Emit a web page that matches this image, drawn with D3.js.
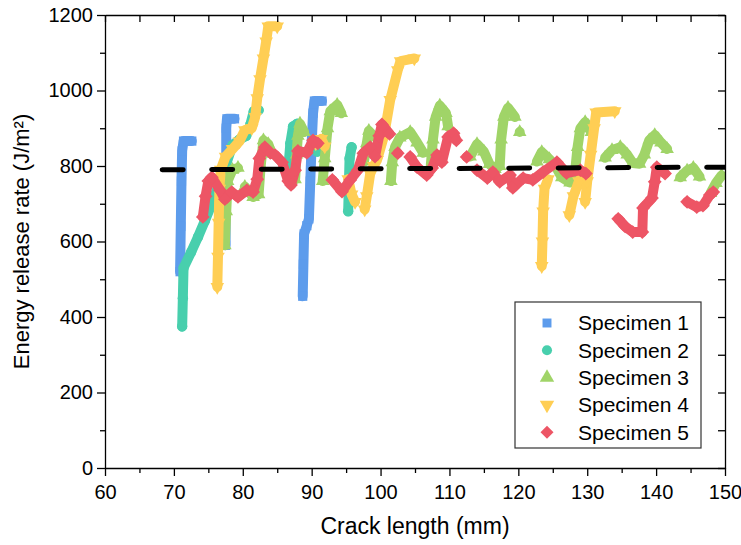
<!DOCTYPE html>
<html><head><meta charset="utf-8">
<script src="https://cdn.jsdelivr.net/npm/d3@7"></script>
<style>
html,body{margin:0;padding:0;background:#fff;}
text{font-family:"Liberation Sans",Arial,sans-serif;fill:#000;}
</style></head>
<body><svg id="c" width="741" height="545"></svg>
<script>
// ---- data ----
const xTicks = [60,70,80,90,100,110,120,130,140,150];
const yTicks = [0,200,400,600,800,1000,1200];
const seriesNames = ["Specimen 1","Specimen 2","Specimen 3","Specimen 4","Specimen 5"];
const seriesColors = ["#5D9CEC","#48CFAD","#A0D468","#FFCE54","#ED5565"];

const spec1 = [[70.9,520],[71.0,640],[71.1,760],[71.2,840],[71.4,866],[72.6,866],null,
 [77.5,590],[77.5,700],[77.6,800],[77.6,900],[77.7,925],[78.8,925],null,
 [88.7,455],[88.8,540],[88.9,620],[89.3,642],[89.6,660],[89.8,760],[90.0,860],[90.2,940],[90.4,972],[91.5,972]];

const spec2 = [[71.2,375],[71.3,450],[71.4,530],[72.5,572],[73.5,612],[74.5,655],[75.5,700],[76.5,750],[77.5,800],[78.5,855],[79.5,870],[80.5,880],[81.1,910],[81.6,945],[82.3,948],null,
 [86.6,790],[86.9,860],[87.3,905],[87.9,912],null,
 [90.8,838],[91.5,852],null,
 [95.3,680],[95.4,750],[95.5,820],[95.8,850]];

const spec3 = [[77.4,590],[77.6,680],[77.8,760],[78.5,790],[79.3,795],null,
 [80.3,745],[81.5,718],[82.3,725],[82.6,800],[83.0,868],[83.7,858],[84.2,832],null,
 [87.6,765],[87.8,830],[88.0,880],[88.3,912],[88.9,890],null,
 [91.6,760],[91.9,820],[92.3,900],[92.7,945],[93.7,962],[94.3,940],null,
 [97.6,812],[98.0,860],[98.3,893],[99.0,878],null,
 [101.5,760],[101.7,810],[102.1,850],[102.8,875],[104.3,890],[105.3,862],[106.2,835],null,
 [107.3,803],[107.6,870],[108.0,930],[108.6,960],[109.5,940],[109.8,905],null,
 [113.0,825],[114.0,858],[115.0,838],[115.8,805],[116.6,792],[117.3,800],[117.5,870],[117.9,930],[118.5,954],[119.5,930],null,
 [120.2,890],null,
 [122.7,812],[123.4,837],[124.5,818],[125.4,800],[126.3,770],[127.5,756],[128.2,778],[128.6,850],[129.0,900],[129.7,916],[130.6,890],null,
 [132.6,822],[133.6,842],[134.8,850],[135.8,830],[136.6,808],[137.6,806],[138.3,830],[139.0,868],[139.8,882],[140.7,862],[141.6,845],null,
 [143.5,770],[144.5,788],[145.4,795],[146.3,772],null,
 [147.9,728],[148.7,755],[149.5,775]];

const spec4 = [[76.3,480],[76.4,560],[76.5,650],[76.6,740],[76.8,790],[77.5,825],[78.5,845],[79.5,865],[80.3,895],[81.3,900],[81.8,930],[82.1,980],[82.5,1030],[83.0,1085],[83.4,1130],[83.7,1170],[85.0,1170],null,
 [90.6,860],[91.4,872],[91.9,852],null,
 [95.3,765],[95.8,725],[96.3,705],null,
 [97.7,685],[98.0,720],[98.5,780],[99.0,800],[99.5,816],[100.5,880],[101.4,975],[102.5,1054],[102.9,1078],[104.9,1085],null,
 [123.4,535],[123.5,600],[123.6,680],[123.8,740],[124.3,765],null,
 [127.4,670],[128.0,720],[128.8,760],[129.2,770],null,
 [129.7,705],[130.0,760],[130.5,830],[131.0,900],[131.3,942],[134.0,945]];

const spec5 = [[74.2,665],[74.6,720],[75.0,760],[75.5,770],[76.7,736],[77.4,712],[78.4,731],[79.3,718],[80.6,736],[81.5,731],[82.1,765],[82.4,820],[83.2,850],[84.0,835],[84.7,829],[85.7,810],[86.6,760],[87.0,750],[87.6,789],[88.0,840],[89.3,835],[90.2,868],[90.9,860],null,
 [93.0,763],[94.4,732],[95.6,763],[96.7,789],[97.5,834],[98.5,850],[99.2,825],[99.8,880],[100.2,910],[101.3,885],null,
 [102.5,834],null,
 [104.3,824],[105.3,797],[106.7,776],[107.5,795],[108.2,829],[108.9,810],[109.8,877],[110.6,887],[111.0,868],null,
 [112.5,824],null,
 [114.0,789],[115.5,768],[116.3,784],[117.3,758],[118.8,776],[119.2,742],[120.7,768],[122.1,763],[123.6,784],[125.6,810],[127.0,781],[129.0,789],[129.8,780],null,
 [134.5,660],[135.5,640],[136.6,625],[138.0,625],[138.1,689],[139.4,715],[139.8,758],[140.1,797],[141.3,780],null,
 [144.5,705],[145.9,691],[146.8,695],[147.8,723],[148.3,731]];

const avgLine = [[68.3,790],[150,797]];

// ---- chart ----
const L = 105, R = 725, T = 15, B = 468;
const svg = d3.select("#c");
const x = d3.scaleLinear().domain([60,150]).range([L,R]);
const y = d3.scaleLinear().domain([0,1200]).range([B,T]);

svg.append("defs").append("clipPath").attr("id","clip")
  .append("rect").attr("x",L).attr("y",T).attr("width",R-L).attr("height",B-T);

const plot = svg.append("g").attr("clip-path","url(#clip)");
const allSeries = [spec1,spec2,spec3,spec4,spec5];
const symTypes = [d3.symbolSquare, d3.symbolCircle, d3.symbolTriangle, d3.symbolTriangle, d3.symbolSquare];
const symSizes = [85, 85, 80, 80, 95];
const symRot = [0,0,0,180,45];
const line = d3.line().defined(d => d).x(d => x(d[0])).y(d => y(d[1]));

allSeries.forEach((s,i) => {
  const g = plot.append("g");
  g.append("path").datum(s).attr("d", line)
    .attr("fill","none").attr("stroke",seriesColors[i])
    .attr("stroke-width",10).attr("stroke-linejoin","round").attr("stroke-linecap","round");
  g.selectAll("path.m").data(s.filter(d => d)).join("path").attr("class","m")
    .attr("d", d3.symbol().type(symTypes[i]).size(symSizes[i]))
    .attr("transform", d => `translate(${x(d[0])},${y(d[1])}) rotate(${symRot[i]})`)
    .attr("fill", seriesColors[i]);
});

plot.append("path").datum(avgLine).attr("d", d3.line().x(d=>x(d[0])).y(d=>y(d[1])))
  .attr("stroke","#000").attr("stroke-width",5).attr("fill","none")
  .attr("stroke-linecap","round").attr("stroke-dasharray","21,28.5");

// axes
const fs = "20px";
const xMinor = d3.range(65,150,10);
const yMinor = d3.range(100,1200,200);
svg.append("g").attr("transform",`translate(0,${B})`)
  .call(d3.axisBottom(x).tickValues(xTicks).tickSize(8).tickSizeOuter(0).tickPadding(9).tickFormat(d3.format("d")));
svg.append("g").attr("transform",`translate(0,${B})`)
  .call(d3.axisBottom(x).tickValues(xMinor).tickSize(5).tickFormat("")).select(".domain").remove();
svg.append("g").attr("transform",`translate(${L},0)`)
  .call(d3.axisLeft(y).tickValues(yTicks).tickSize(8).tickSizeOuter(0).tickPadding(4).tickFormat(d3.format("d")));
svg.append("g").attr("transform",`translate(${L},0)`)
  .call(d3.axisLeft(y).tickValues(yMinor).tickSize(5).tickFormat("")).select(".domain").remove();
svg.append("g").attr("transform",`translate(0,${T})`)
  .call(d3.axisTop(x).tickValues(d3.range(60,151,5)).tickSize(-7).tickSizeOuter(0).tickFormat(""));
svg.append("g").attr("transform",`translate(${R},0)`)
  .call(d3.axisRight(y).tickValues(d3.range(0,1201,100)).tickSize(-7).tickSizeOuter(0).tickFormat(""));
svg.selectAll(".domain").attr("stroke","#000").attr("stroke-width",1.3);
svg.selectAll(".tick line").attr("stroke","#000").attr("stroke-width",1.3);
svg.selectAll(".tick text").style("font-size",fs).style("font-family","'Liberation Sans',Arial,sans-serif").attr("fill","#000");

// axis titles
svg.append("text").attr("x",(L+R)/2).attr("y",534).attr("text-anchor","middle")
  .style("font-size","23px").text("Crack length (mm)");
svg.append("text").attr("transform",`translate(29,${(T+B)/2}) rotate(-90)`).attr("text-anchor","middle")
  .style("font-size","22px").text("Energy release rate (J/m²)");

// legend
const lg = svg.append("g");
lg.append("rect").attr("x",515).attr("y",302).attr("width",186).attr("height",146)
  .attr("fill","#fff").attr("stroke","#333").attr("stroke-width",1.2);
seriesNames.forEach((n,i) => {
  const yy = 323 + i*27.3;
  lg.append("path").attr("d", d3.symbol().type(symTypes[i]).size(i===4?85:(i>=2?90:80)))
    .attr("transform",`translate(547,${yy}) rotate(${symRot[i]})`).attr("fill",seriesColors[i]);
  lg.append("text").attr("x",578).attr("y",yy).attr("dy","0.35em")
    .style("font-size","21px").text(n);
});
</script></body></html>
